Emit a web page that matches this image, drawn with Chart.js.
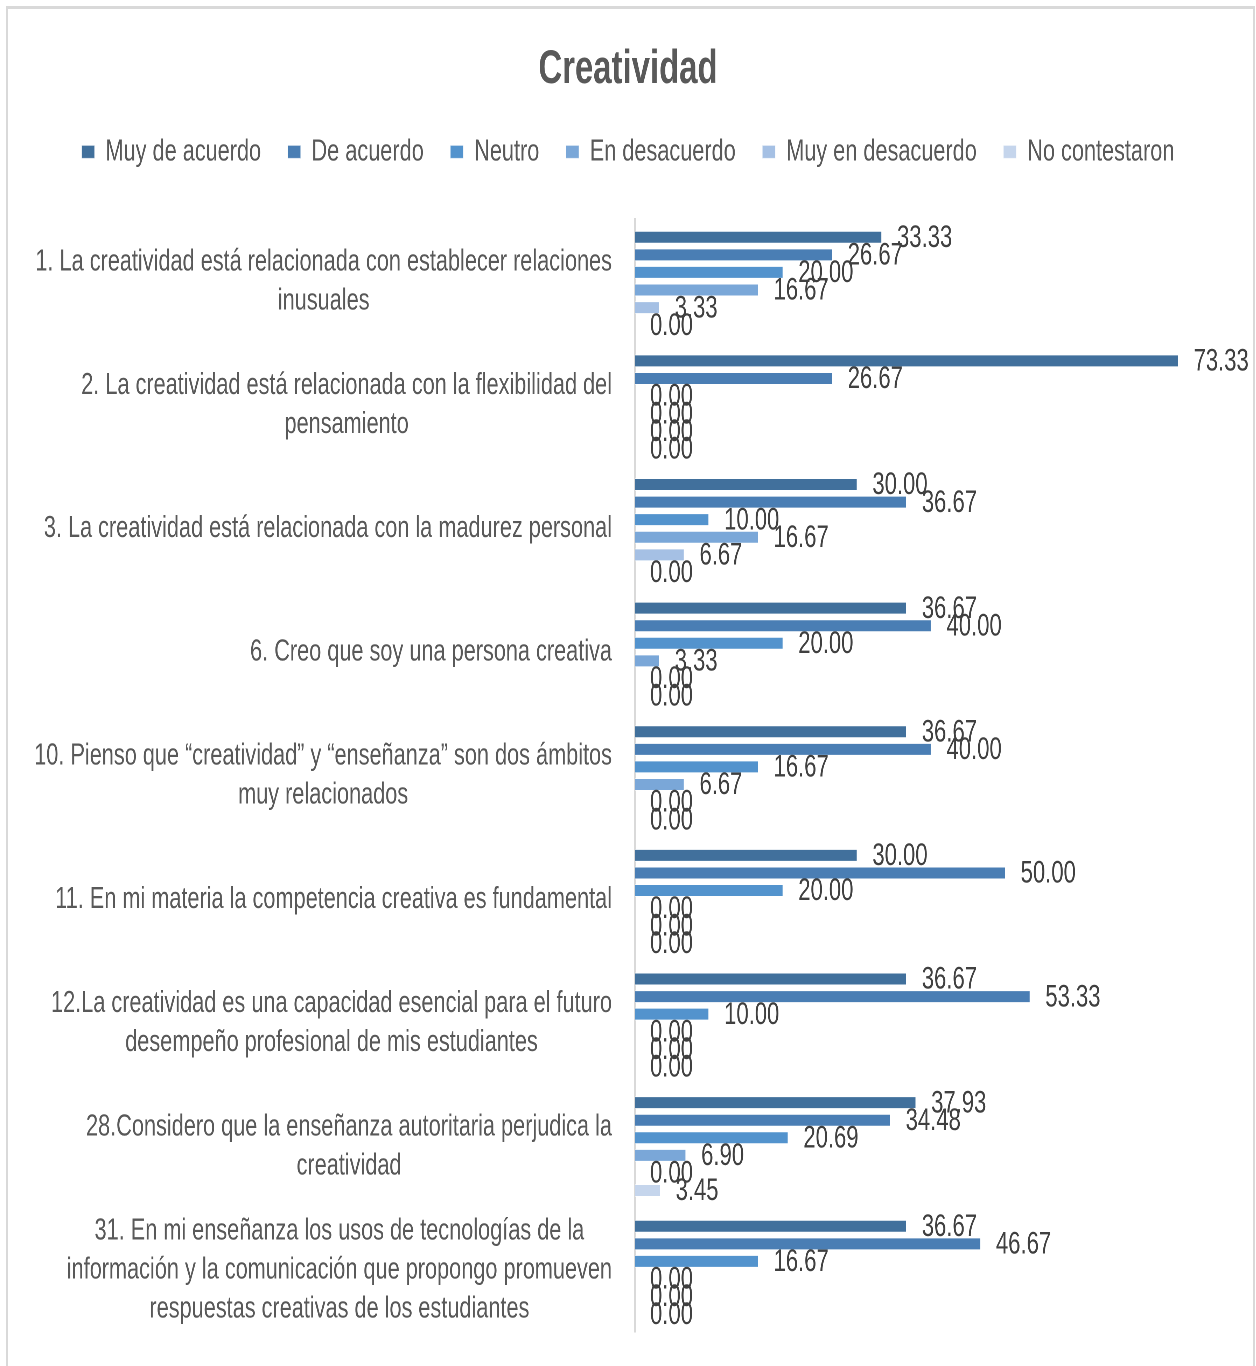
<!DOCTYPE html>
<html>
<head>
<meta charset="utf-8">
<title>Creatividad</title>
<script src="https://cdn.jsdelivr.net/npm/chart.js@4.4.1/dist/chart.umd.min.js"></script>
<style>
  html, body { margin: 0; padding: 0; background: #fff; overflow: hidden; }
  #wrap { position: absolute; left: 0; top: 0; height: 1366px; transform-origin: 0 0; }
  #frame {
    position: absolute; left: 6px; top: 6px; width: 1249px; height: 1400px;
    border: 2px solid #d9d9d9; border-top-width: 3px; box-sizing: border-box;
    pointer-events: none;
  }
</style>
</head>
<body>
<div id="wrap"><canvas id="chart"></canvas></div>
<div id="frame"></div>
<script>
// Chart data
const categories = [
  ['1. La creatividad está relacionada con establecer relaciones', 'inusuales'],
  ['2. La creatividad está relacionada con la flexibilidad del', 'pensamiento'],
  ['3. La creatividad está relacionada con la madurez personal'],
  ['6. Creo que soy una persona creativa'],
  ['10. Pienso que “creatividad” y “enseñanza” son dos ámbitos', 'muy relacionados'],
  ['11. En mi materia la competencia creativa es fundamental'],
  ['12.La creatividad es una capacidad esencial para el futuro', 'desempeño profesional de mis estudiantes'],
  ['28.Considero que la enseñanza autoritaria perjudica la', 'creatividad'],
  ['31. En mi enseñanza los usos de tecnologías de la', 'información y la comunicación que propongo promueven', 'respuestas creativas de los estudiantes'],
];

const seriesNames = ['Muy de acuerdo', 'De acuerdo', 'Neutro', 'En desacuerdo', 'Muy en desacuerdo', 'No contestaron'];

const muyDeAcuerdo    = [33.33, 73.33, 30.00, 36.67, 36.67, 30.00, 36.67, 37.93, 36.67];
const deAcuerdo       = [26.67, 26.67, 36.67, 40.00, 40.00, 50.00, 53.33, 34.48, 46.67];
const neutro          = [20.00, 0.00, 10.00, 20.00, 16.67, 20.00, 10.00, 20.69, 16.67];
const enDesacuerdo    = [16.67, 0.00, 16.67, 3.33, 6.67, 0.00, 0.00, 6.90, 0.00];
const muyEnDesacuerdo = [3.33, 0.00, 6.67, 0.00, 0.00, 0.00, 0.00, 0.00, 0.00];
const noContestaron   = [0.00, 0.00, 0.00, 0.00, 0.00, 0.00, 0.00, 3.45, 0.00];

const seriesValues = [muyDeAcuerdo, deAcuerdo, neutro, enDesacuerdo, muyEnDesacuerdo, noContestaron];
const seriesColors = ['#41709C', '#4A7EB4', '#5393CD', '#7AA7D8', '#A5C0E4', '#C5D5EC'];

// the original picture is squeezed horizontally, so draw wide and squeeze
const SQUEEZE = 0.7;
const PAGE_W = 1256;
const SIDE = 28 / SQUEEZE;
const wrap = document.getElementById('wrap');
wrap.style.width = (PAGE_W / SQUEEZE) + 'px';
wrap.style.transform = 'scaleX(' + SQUEEZE + ')';

const FONT = '"Liberation Sans", Arial, sans-serif';

// category labels: right-aligned block, lines centred inside it
const categoryLabels = {
  id: 'categoryLabels',
  afterDraw(chart) {
    const ctx = chart.ctx;
    const yScale = chart.scales.y;
    ctx.save();
    ctx.font = '31px ' + FONT;
    ctx.fillStyle = '#595959';
    ctx.textAlign = 'center';
    ctx.textBaseline = 'middle';
    const right = yScale.right - 23 / SQUEEZE;
    categories.forEach((lines, i) => {
      const cy = yScale.getPixelForTick(i);
      const blockW = Math.max(...lines.map(l => ctx.measureText(l).width));
      const cx = right - blockW / 2;
      lines.forEach((line, j) => {
        ctx.fillText(line, cx, cy + (j - (lines.length - 1) / 2) * 39);
      });
    });
    ctx.restore();
  }
};

// value labels at bar ends
const valueLabels = {
  id: 'valueLabels',
  afterDatasetsDraw(chart) {
    const ctx = chart.ctx;
    ctx.save();
    ctx.font = '31.5px ' + FONT;
    ctx.fillStyle = '#404040';
    ctx.textAlign = 'left';
    ctx.textBaseline = 'middle';
    chart.data.datasets.forEach((ds, i) => {
      chart.getDatasetMeta(i).data.forEach((bar, j) => {
        ctx.fillText(ds.data[j].toFixed(2), bar.x + 15 / SQUEEZE, bar.y + 1);
      });
    });
    ctx.restore();
  }
};

const datasets = seriesNames.map((name, i) => ({
  label: name,
  data: seriesValues[i],
  backgroundColor: seriesColors[i],
  borderColor: 'rgba(255,255,255,0.55)',
  borderWidth: 1,
  categoryPercentage: 0.853,
  barPercentage: 0.74,
}));

new Chart(document.getElementById('chart'), {
  type: 'bar',
  data: { labels: categories, datasets: datasets },
  plugins: [categoryLabels, valueLabels],
  options: {
    indexAxis: 'y',
    responsive: true,
    maintainAspectRatio: false,
    animation: false,
    devicePixelRatio: 2,
    layout: { padding: { top: 10, right: SIDE, bottom: 34, left: SIDE } },
    scales: {
      x: {
        position: 'top',
        min: 0,
        max: 80,
        grid: { display: false },
        border: { display: false },
        ticks: { display: false },
        afterFit(scale) { scale.height = 42; },
      },
      y: {
        grid: { display: false },
        border: { display: true, color: '#d9d9d9', width: 3 },
        ticks: { display: false },
        afterFit(scale) { scale.width = 635 / SQUEEZE - SIDE; },
      },
    },
    plugins: {
      title: {
        display: true,
        text: 'Creatividad',
        color: '#595959',
        font: { family: FONT, size: 47, weight: 'bold' },
        padding: { top: 32, bottom: 0 },
      },
      legend: {
        position: 'top',
        labels: {
          color: '#595959',
          font: { family: FONT, size: 31 },
          boxWidth: 13 / SQUEEZE,
          boxHeight: 13,
          padding: 38,
        },
      },
      tooltip: { enabled: false },
    },
  },
});
</script>
</body>
</html>
